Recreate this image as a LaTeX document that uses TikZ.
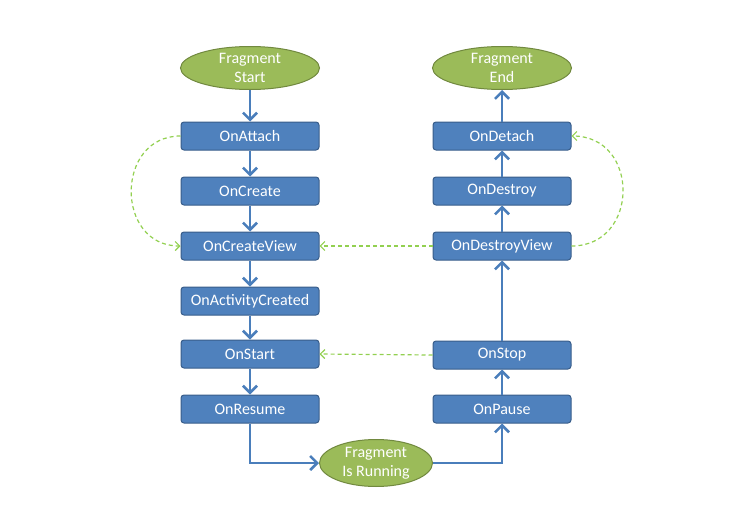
\documentclass[tikz,border=0pt]{standalone}
\usepackage{fontspec}
\setmainfont{Carlito}
\usetikzlibrary{arrows.meta,shapes.geometric}
\definecolor{boxfill}{HTML}{4F81BD}
\definecolor{boxline}{HTML}{385D8A}
\definecolor{ovalfill}{HTML}{9BBB59}
\definecolor{ovalline}{HTML}{71893F}
\definecolor{flow}{HTML}{4A7EBB}
\definecolor{jump}{HTML}{92D050}
\tikzset{
  stage/.style={draw=boxline, line width=1pt, fill=boxfill, rounded corners=3pt,
    minimum width=138pt, minimum height=28pt, inner sep=0pt,
    text=white, font=\fontsize{16pt}{19pt}\selectfont},
  terminal/.style={ellipse, draw=ovalline, line width=1pt, fill=ovalfill,
    inner sep=0pt, text=white, align=center,
    font=\fontsize{16pt}{19pt}\selectfont},
  flowarrow/.style={draw=flow, line width=2.8pt,
    -{Straight Barb[length=7pt,width=14pt,line width=2.6pt]}},
  jumparrow/.style={draw=jump, line width=1.2pt, dash pattern=on 4pt off 3pt,
    -{Straight Barb[length=4.5pt,width=9pt,line width=1.2pt]}}
}
\begin{document}
\begin{tikzpicture}[x=1pt,y=-1pt]
\useasboundingbox (0,0) rectangle (750,530);
% creation column
\node[terminal, minimum width=139pt, minimum height=43pt] (start) at (250,68) {Fragment\\Start};
\node[stage] (attach) at (250,136) {OnAttach};
\node[stage] (create) at (250,191) {OnCreate};
\node[stage] (createview) at (250,246) {OnCreateView};
\node[stage] (activity) at (250,301) {OnActivityCreated};
\node[stage] (startn) at (250,354) {OnStart};
\node[stage] (resume) at (250,409) {OnResume};
% running state
\node[terminal, minimum width=113pt, minimum height=47pt] (running) at (376,463) {Fragment\\Is Running};
% teardown column
\node[stage] (pause) at (502,409) {OnPause};
\node[stage] (stop) at (502,355) {OnStop};
\node[stage] (destroyview) at (502,246) {OnDestroyView};
\node[stage] (destroy) at (502,191) {OnDestroy};
\node[stage] (detach) at (502,136) {OnDetach};
\node[terminal, minimum width=139pt, minimum height=43pt] (finish) at (502,68) {Fragment\\End};
% main flow
\draw[flowarrow] (start) -- (attach);
\draw[flowarrow] (attach) -- (create);
\draw[flowarrow] (create) -- (createview);
\draw[flowarrow] (createview) -- (activity);
\draw[flowarrow] (activity) -- (startn);
\draw[flowarrow] (startn) -- (resume);
\draw[flowarrow] (resume.south) |- (running.west);
\draw[flowarrow] (running.east) -| (pause.south);
\draw[flowarrow] (pause) -- (stop);
\draw[flowarrow] (stop) -- (destroyview);
\draw[flowarrow] (destroyview) -- (destroy);
\draw[flowarrow] (destroy) -- (detach);
\draw[flowarrow] (detach) -- (finish);
% back transitions
\draw[jumparrow] (attach.west) .. controls (115,136) and (115,246) .. (createview.west);
\draw[jumparrow] (destroyview.east) .. controls (640,246) and (640,136) .. (detach.east);
\draw[jumparrow] (destroyview.west) -- (createview.east);
\draw[jumparrow] (stop.west) -- (startn.east);
\end{tikzpicture}
\end{document}
